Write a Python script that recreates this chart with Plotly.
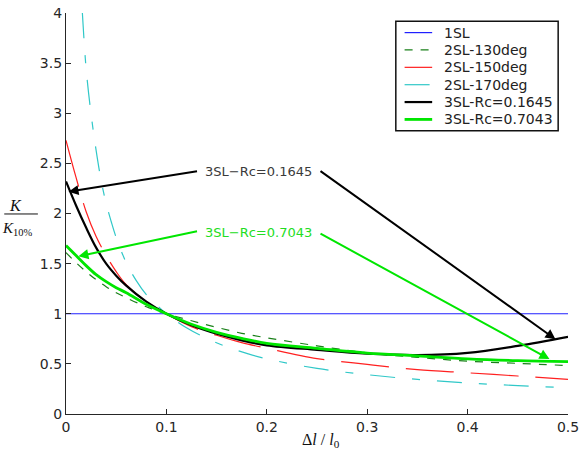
import plotly.graph_objects as go

# ---- data ----
x_grid = [0, 0.01, 0.02, 0.03, 0.04, 0.05, 0.06, 0.08, 0.1, 0.125, 0.15, 0.175,
          0.2, 0.25, 0.3, 0.35, 0.4, 0.45, 0.5]
sl1_x = [0, 0.5]
sl1_y = [1.0, 1.0]
sl2_130 = [1.61, 1.51, 1.42, 1.34, 1.27, 1.21, 1.16, 1.07, 1.0, 0.93, 0.865, 0.805,
           0.76, 0.68, 0.61, 0.565, 0.527, 0.505, 0.483]
sl2_150 = [2.73, 2.36, 2.02, 1.77, 1.58, 1.42, 1.29, 1.12, 1.0, 0.87, 0.785, 0.712,
           0.656, 0.553, 0.495, 0.443, 0.411, 0.379, 0.346]
sl2_170_x = [0.0163, 0.02, 0.025, 0.03, 0.035, 0.04, 0.045, 0.05, 0.06, 0.07, 0.08,
             0.09, 0.1, 0.12, 0.14, 0.16, 0.18, 0.2, 0.25, 0.3, 0.35, 0.4, 0.45, 0.5]
sl2_170 = [4.0, 3.45, 2.99, 2.63, 2.33, 2.1, 1.92, 1.76, 1.51, 1.33, 1.19, 1.09, 1.0,
           0.86, 0.755, 0.67, 0.605, 0.55, 0.455, 0.392, 0.345, 0.31, 0.283, 0.262]
sl3_1645 = [2.32, 2.08, 1.86, 1.66, 1.50, 1.38, 1.28, 1.12, 1.0, 0.885, 0.80, 0.735,
            0.685, 0.64, 0.602, 0.588, 0.61, 0.68, 0.77]
sl3_7043 = [1.68, 1.58, 1.48, 1.39, 1.32, 1.26, 1.21, 1.095, 1.0, 0.895, 0.815, 0.755,
            0.705, 0.655, 0.608, 0.58, 0.55, 0.532, 0.522]

series_names = ["1SL", "2SL-130deg", "2SL-150deg", "2SL-170deg",
                "3SL-Rc=0.1645", "3SL-Rc=0.7043"]

x_ticks = [0, 0.1, 0.2, 0.3, 0.4, 0.5]
x_labels = ["0", "0.1", "0.2", "0.3", "0.4", "0.5"]
y_ticks = [0, 0.5, 1, 1.5, 2, 2.5, 3, 3.5, 4]
y_labels = ["0", "0.5", "1", "1.5", "2", "2.5", "3", "3.5", "4"]

# annotation arrows: (tail, head) in data coordinates
arrow_black = [((0.132, 2.424), (0.0025, 2.217)), ((0.252, 2.434), (0.4875, 0.746))]
arrow_green = [((0.132, 1.826), (0.0124, 1.573)), ((0.252, 1.807), (0.4815, 0.548))]
label_black = ("3SL\u2212Rc=0.1645", 0.192, 2.418)
label_green = ("3SL\u2212Rc=0.7043", 0.192, 1.807)

# ---- styles ----
BLUE = "#2020ff"
DKGREEN = "#1a801a"
RED = "#ff2020"
CYAN = "#30c8c8"
BLACK = "#000000"
GREEN = "#00e600"
styles = [
    dict(color=BLUE, width=1.2),
    dict(color=DKGREEN, width=1.2, dash="8px,8px"),
    dict(color=RED, width=1.2, dash="48px,17px"),
    dict(color=CYAN, width=1.2, dash="25px,17px,8px,17px"),
    dict(color=BLACK, width=2.2),
    dict(color=GREEN, width=2.8),
]
SANS = "DejaVu Sans, Verdana, sans-serif"
SERIF = "Liberation Serif, Times New Roman, serif"

xs = [sl1_x, x_grid, x_grid, sl2_170_x, x_grid, x_grid]
ys = [sl1_y, sl2_130, sl2_150, sl2_170, sl3_1645, sl3_7043]

fig = go.Figure()
for i, (xv, yv) in enumerate(zip(xs, ys)):
    st = dict(styles[i])
    if i > 0:
        st["shape"] = "spline"
    fig.add_trace(go.Scatter(x=xv, y=yv, mode="lines", name=series_names[i],
                             line=st, showlegend=False))

annotations = []
for arrows, col in ((arrow_black, BLACK), (arrow_green, GREEN)):
    for (tx, ty), (hx, hy) in arrows:
        annotations.append(dict(x=hx, y=hy, ax=tx, ay=ty, xref="x", yref="y",
                                axref="x", ayref="y", text="", showarrow=True,
                                arrowhead=2, arrowsize=1, arrowwidth=2,
                                arrowcolor=col))
for (txt, tx, ty), col in ((label_black, "#3a3a3a"), (label_green, "#22dd22")):
    annotations.append(dict(x=tx, y=ty, xref="x", yref="y", text=txt,
                            showarrow=False,
                            font=dict(family=SANS, size=13, color=col)))

# y-axis title as a fraction K / K_10%
annotations.append(dict(x=-0.100, y=0.519, xref="paper", yref="paper",
                        xanchor="center", yanchor="middle",
                        text="<i>K</i>", showarrow=False,
                        font=dict(family=SERIF, size=16, color="#111")))
annotations.append(dict(x=-0.096, y=0.462, xref="paper", yref="paper",
                        xanchor="center", yanchor="middle",
                        text="<i>K</i><sub>10%</sub>", showarrow=False,
                        font=dict(family=SERIF, size=15, color="#111")))
annotations.append(dict(x=0.508, y=-0.066, xref="paper", yref="paper",
                        xanchor="center", yanchor="middle",
                        text="\u0394<i>l</i> / <i>l</i><sub>0</sub>", showarrow=False,
                        font=dict(family=SERIF, size=16, color="#111")))

shapes = [dict(type="line", xref="paper", yref="paper", x0=-0.123, x1=-0.056,
               y0=0.4988, y1=0.4988, line=dict(color="#111", width=1))]

# ---- legend box drawn in paper coordinates ----
LEG_X0, LEG_X1, LEG_Y0, LEG_Y1 = 0.657, 0.9804, 0.7066, 0.9792
LEG_FIRST, LEG_STEP = 0.9511, 0.0433
shapes.append(dict(type="rect", xref="paper", yref="paper", x0=LEG_X0, x1=LEG_X1,
                   y0=LEG_Y0, y1=LEG_Y1, line=dict(color="#111", width=1.5),
                   fillcolor="white", layer="above"))
for i, name in enumerate(series_names):
    yy = LEG_FIRST - i * LEG_STEP
    st = styles[i]
    shapes.append(dict(type="line", xref="paper", yref="paper", x0=0.6745, x1=0.7294,
                       y0=yy, y1=yy, layer="above",
                       line=dict(color=st["color"], width=st["width"],
                                 dash=st.get("dash", "solid"))))
    annotations.append(dict(x=0.749, y=yy, xref="paper", yref="paper",
                            xanchor="left", yanchor="middle", text=name,
                            showarrow=False,
                            font=dict(family=SANS, size=14, color="#222")))

axis_common = dict(showgrid=False, zeroline=False, showline=True,
                   linecolor="#262626", linewidth=1.2, ticks="inside", ticklen=5,
                   tickcolor="#262626", mirror=False, ticklabeloverflow="allow",
                   tickfont=dict(family=SANS, size=14, color="#262626"))

fig.update_layout(
    width=584, height=453,
    margin=dict(l=66, r=8, t=5, b=39),
    paper_bgcolor="white", plot_bgcolor="white",
    xaxis=dict(range=[0, 0.5], tickvals=x_ticks, ticktext=x_labels, **axis_common),
    yaxis=dict(range=[0, 4], tickvals=y_ticks, ticktext=y_labels, **axis_common),
    annotations=annotations,
    shapes=shapes,
    showlegend=False,
)

fig.write_html("out.html")
